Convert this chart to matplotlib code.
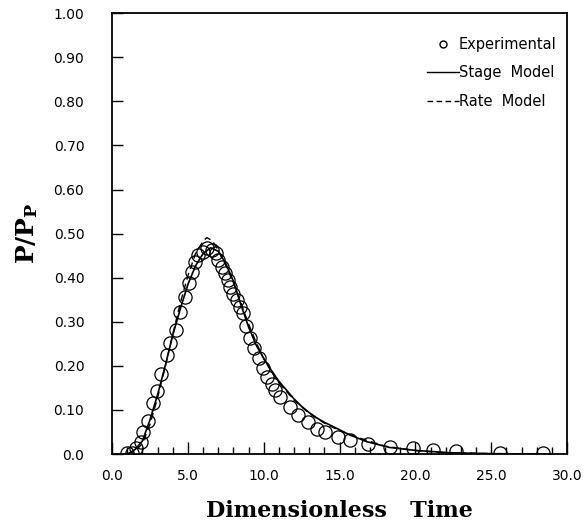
import matplotlib
matplotlib.use("Agg")
import matplotlib.pyplot as plt
from matplotlib.lines import Line2D
from matplotlib.ticker import MultipleLocator

plt.rcParams["mathtext.fontset"] = "dejavuserif"

# Experimental data
exp_x = [0.96, 1.29, 1.58, 1.89, 2.06, 2.39, 2.68, 2.99, 3.23, 3.61, 3.82, 4.22,
         4.48, 4.81, 5.08, 5.25, 5.47, 5.69, 6.02, 6.28, 6.57, 6.84, 7.01, 7.23,
         7.45, 7.67, 7.78, 8.00, 8.22, 8.44, 8.66, 8.85, 9.10, 9.35, 9.66, 9.97,
         10.2, 10.53, 10.74, 11.07, 11.73, 12.28, 12.94, 13.49, 14.04, 14.92,
         15.69, 16.9, 18.33, 19.82, 21.18, 22.68, 25.58, 28.43]
exp_y = [0.002, 0.003, 0.013, 0.028, 0.05, 0.075, 0.116, 0.143, 0.182, 0.225, 0.252, 0.282,
         0.323, 0.357, 0.387, 0.414, 0.436, 0.452, 0.459, 0.467, 0.463, 0.455, 0.44, 0.425,
         0.41, 0.395, 0.38, 0.364, 0.349, 0.334, 0.319, 0.29, 0.263, 0.24, 0.217, 0.195,
         0.175, 0.16, 0.145, 0.13, 0.107, 0.089, 0.073, 0.058, 0.05, 0.039,
         0.032, 0.023, 0.015, 0.013, 0.009, 0.008, 0.003, 0.002]

# Stage model (solid)
stage_x = [1.0, 1.5, 2.0, 2.5, 3.0, 3.5, 4.0, 4.5, 5.0, 5.5, 6.0, 6.5, 7.0, 7.5, 8.0,
           8.5, 9.0, 9.5, 10.0, 10.5, 11.0, 11.5, 12.0, 12.5, 13.0, 13.5, 14.0, 14.6,
           15.0, 15.7, 16.8, 18.3, 20.1, 22.3, 25.0, 28.5]
stage_y = [0.0, 0.01, 0.03, 0.078, 0.135, 0.2, 0.27, 0.33, 0.385, 0.427, 0.455, 0.468,
           0.46, 0.432, 0.392, 0.338, 0.288, 0.247, 0.217, 0.19, 0.165, 0.145, 0.125,
           0.108, 0.094, 0.082, 0.072, 0.062, 0.055, 0.043, 0.028, 0.015, 0.008, 0.003,
           0.001, 0.0]

# Rate model (dashed)
rate_x = [1.0, 1.5, 2.0, 2.5, 3.0, 3.5, 4.0, 4.5, 5.0, 5.5, 6.0, 6.25, 6.6, 7.0, 7.5,
          8.0, 8.5, 9.0, 9.5, 10.0, 10.5, 11.0, 12.0, 13.0, 14.0, 15.0, 16.0, 18.0,
          20.0, 22.0, 25.0, 28.5]
rate_y = [0.0, 0.006, 0.024, 0.068, 0.128, 0.198, 0.272, 0.343, 0.405, 0.455, 0.483,
          0.491, 0.484, 0.462, 0.428, 0.388, 0.342, 0.295, 0.253, 0.216, 0.187, 0.162,
          0.122, 0.092, 0.07, 0.053, 0.04, 0.018, 0.008, 0.003, 0.001, 0.0]

xticks = [0, 5, 10, 15, 20, 25, 30]
xtick_labels = ["0.0", "5.0", "10.0", "15.0", "20.0", "25.0", "30.0"]
yticks = [0.0, 0.1, 0.2, 0.3, 0.4, 0.5, 0.6, 0.7, 0.8, 0.9, 1.0]
ytick_labels = ["0.0", "0.10", "0.20", "0.30", "0.40", "0.50", "0.60", "0.70",
                "0.80", "0.90", "1.00"]

fig = plt.figure(figsize=(5.84, 5.28), dpi=100)
ax = fig.add_axes([0.192, 0.140, 0.779, 0.835])

ax.plot(exp_x, exp_y, linestyle="none", marker="o", markersize=9.5,
        markerfacecolor="none", markeredgecolor="black", markeredgewidth=0.9, zorder=3)
ax.plot(stage_x, stage_y, color="black", linewidth=1.2, zorder=2)
ax.plot(rate_x, rate_y, color="black", linewidth=1.0, linestyle=(0, (5, 3)), zorder=2)

ax.set_xlim(0, 30)
ax.set_ylim(0, 1.0)
ax.set_xticks(xticks)
ax.set_xticklabels(xtick_labels)
ax.set_yticks(yticks)
ax.set_yticklabels(ytick_labels)
ax.xaxis.set_minor_locator(MultipleLocator(1))

ax.tick_params(axis="x", which="major", direction="in", length=9, width=1, pad=11,
               labelsize=10, top=False)
ax.tick_params(axis="x", which="minor", direction="in", length=5, width=1, top=False)
ax.tick_params(axis="y", which="major", direction="in", length=8, width=1, pad=20,
               labelsize=10, right=False)
for lab in ax.get_xticklabels() + ax.get_yticklabels():
    lab.set_family("DejaVu Sans")

for sp in ax.spines.values():
    sp.set_linewidth(1.3)

ax.set_xlabel("Dimensionless   Time", fontsize=16, fontweight="bold",
              family="DejaVu Serif", labelpad=12)
ax.set_ylabel(r"$\mathbf{P/P}_{\mathbf{P}}$", fontsize=18, labelpad=10)

handles = [
    Line2D([], [], linestyle="none", marker="o", markersize=5,
           markerfacecolor="none", markeredgecolor="black", markeredgewidth=1.0),
    Line2D([], [], color="black", linewidth=1.0),
    Line2D([], [], color="black", linewidth=1.0, linestyle=(0, (4, 2.5))),
]
ax.legend(handles, ["Experimental", "Stage  Model", "Rate  Model"],
          loc="upper right", bbox_to_anchor=(1.0, 0.97), frameon=False,
          fontsize=10.5, handlelength=2.2, handletextpad=0.0, labelspacing=0.95,
          borderaxespad=0.3)

fig.savefig("out.png", dpi=100)
